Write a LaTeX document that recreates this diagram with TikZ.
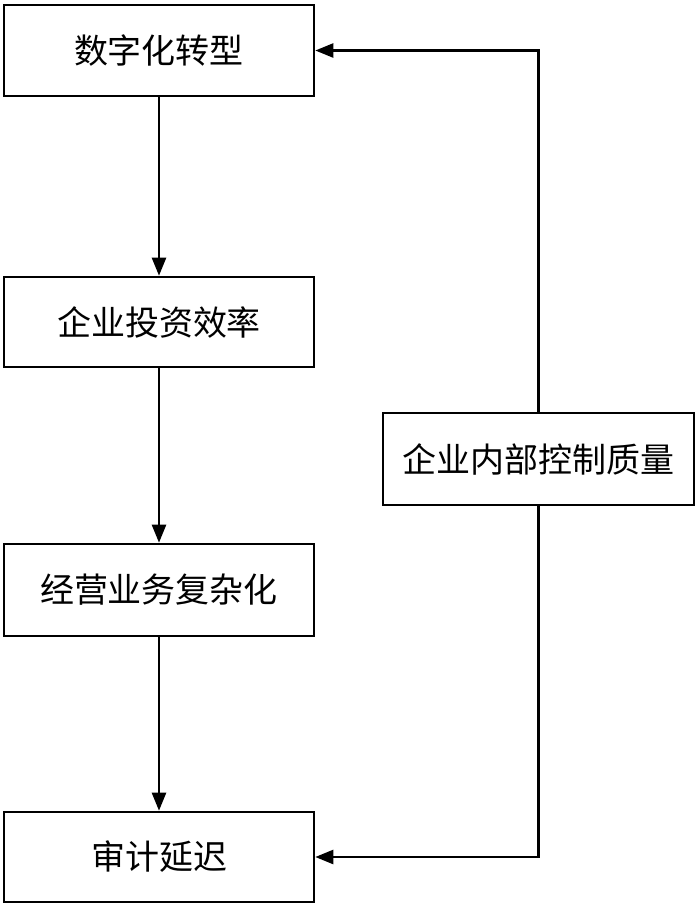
\documentclass[tikz,border=0pt]{standalone}
\usepackage{fontspec}
\newfontfamily\cjk{Noto Sans CJK SC}
\usetikzlibrary{arrows.meta}
\begin{document}
\begin{tikzpicture}[x=1pt,y=-1pt,
  box/.style={draw=black,line width=2.6pt,fill=white,inner sep=0pt,
    font=\cjk\fontsize{34}{40}\selectfont,text=black},
  conn/.style={line width=2.4pt,-{Triangle[length=18pt,width=14pt]}}]
\useasboundingbox[fill=white] (0,0) rectangle (697,906);
\node[box,minimum width=310pt,minimum height=91pt] (b1) at (159,50.5) {数字化转型};
\node[box,minimum width=310pt,minimum height=90pt] (b2) at (159,322) {企业投资效率};
\node[box,minimum width=310pt,minimum height=92pt] (b3) at (159,590) {经营业务复杂化};
\node[box,minimum width=310pt,minimum height=90pt] (b4) at (159,857) {审计延迟};
\node[box,minimum width=311pt,minimum height=92pt] (r) at (538.5,459) {企业内部控制质量};
\draw[conn] (b1) -- (b2);
\draw[conn] (b2) -- (b3);
\draw[conn] (b3) -- (b4);
\draw[conn] (r.north) |- (b1.east);
\draw[conn] (r.south) |- (b4.east);
\end{tikzpicture}
\end{document}
